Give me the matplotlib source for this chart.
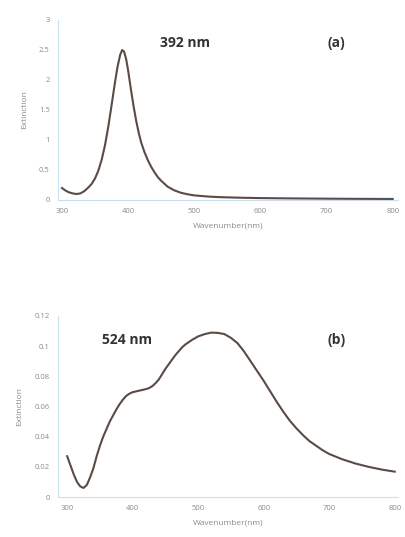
import numpy as np
import matplotlib
matplotlib.use('Agg')
import matplotlib.pyplot as plt

# panel (a): extinction spectrum, peak at 392 nm
wl_a = [300, 305, 310, 316, 322, 328, 334, 340, 345, 350, 355, 360, 365, 370,
        375, 380, 384, 388, 391, 394, 397, 400, 404, 408, 412, 416, 420, 425,
        430, 435, 440, 445, 450, 455, 460, 470, 480, 490, 500, 520, 540, 570,
        600, 650, 700, 750, 800]
ext_a = [0.20, 0.16, 0.13, 0.11, 0.10, 0.11, 0.15, 0.21, 0.27, 0.36, 0.49,
         0.67, 0.91, 1.22, 1.58, 1.95, 2.22, 2.42, 2.50, 2.47, 2.35, 2.16,
         1.86, 1.58, 1.33, 1.12, 0.95, 0.79, 0.66, 0.55, 0.46, 0.38, 0.32,
         0.27, 0.22, 0.16, 0.12, 0.095, 0.077, 0.058, 0.047, 0.038, 0.032,
         0.026, 0.022, 0.019, 0.017]

# panel (b): extinction spectrum, peak at 524 nm
wl_b = [300, 305, 310, 315, 320, 325, 330, 335, 340, 345, 350, 355, 360, 365,
        370, 375, 380, 385, 390, 395, 400, 405, 410, 415, 420, 425, 430, 435,
        440, 445, 450, 455, 460, 465, 470, 475, 480, 490, 500, 510, 520, 530,
        540, 550, 560, 570, 580, 590, 600, 610, 620, 630, 640, 650, 660, 670,
        680, 690, 700, 720, 740, 760, 780, 800]
ext_b = [0.027, 0.021, 0.015, 0.010, 0.007, 0.006, 0.008, 0.013, 0.019, 0.027,
         0.034, 0.040, 0.045, 0.050, 0.054, 0.058, 0.0615, 0.0645, 0.067,
         0.0685, 0.0695, 0.070, 0.0705, 0.071, 0.0715, 0.0722, 0.0735, 0.0755,
         0.078, 0.0815, 0.085, 0.088, 0.091, 0.094, 0.0965, 0.099, 0.101,
         0.104, 0.1065, 0.108, 0.109, 0.1088, 0.108, 0.1055, 0.102, 0.0965,
         0.090, 0.0835, 0.077, 0.070, 0.063, 0.0565, 0.0505, 0.0455, 0.041,
         0.037, 0.034, 0.031, 0.0285, 0.0250, 0.0222, 0.0200, 0.0182, 0.0168]

x_ticks = [300, 400, 500, 600, 700, 800]
y_ticks_a = [0, 0.5, 1, 1.5, 2, 2.5, 3]
y_labels_a = ['0', '0.5', '1', '1.5', '2', '2.5', '3']
y_ticks_b = [0, 0.02, 0.04, 0.06, 0.08, 0.1, 0.12]
y_labels_b = ['0', '0.02', '0.04', '0.06', '0.08', '0.1', '0.12']

plt.rcParams['font.family'] = ['Open Sans', 'DejaVu Sans']

W, H = 405, 537
fig = plt.figure(figsize=(W / 100, H / 100), dpi=100)

line_color = '#5b4b45'
spine_color = '#c9e0f0'
tick_color = '#8a8a8a'


def setup(ax, xlim, ylim, yticks, ylabels):
    ax.set_xlim(*xlim)
    ax.set_ylim(*ylim)
    ax.set_xticks(x_ticks)
    ax.set_xticklabels([str(t) for t in x_ticks])
    ax.set_yticks(yticks)
    ax.set_yticklabels(ylabels)
    for s in ['top', 'right']:
        ax.spines[s].set_visible(False)
    for s in ['left', 'bottom']:
        ax.spines[s].set_color(spine_color)
        ax.spines[s].set_linewidth(0.8)
    ax.tick_params(length=0, labelsize=5.5, colors=tick_color, pad=6)
    ax.set_xlabel('Wavenumber(nm)', fontsize=6, color=tick_color, labelpad=5)
    ax.set_ylabel('Extinction', fontsize=6, color=tick_color, labelpad=8)


ax1 = fig.add_axes([58 / W, 1 - 200 / H, 340 / W, 180 / H])
ax1.plot(wl_a, ext_a, color=line_color, lw=1.5, solid_joinstyle='round')
setup(ax1, (294, 808), (0, 3), y_ticks_a, y_labels_a)
ax1.text(0.374, 0.872, '392 nm', transform=ax1.transAxes, ha='center',
         va='center', fontsize=10, fontweight='bold', color='#333333')
ax1.text(0.82, 0.872, '(a)', transform=ax1.transAxes, ha='center',
         va='center', fontsize=10, fontweight='bold', color='#333333')

ax2 = fig.add_axes([58 / W, 1 - 497 / H, 340 / W, 181 / H])
ax2.plot(wl_b, ext_b, color=line_color, lw=1.5, solid_joinstyle='round')
setup(ax2, (286, 805), (0, 0.12), y_ticks_b, y_labels_b)
ax2.text(0.203, 0.867, '524 nm', transform=ax2.transAxes, ha='center',
         va='center', fontsize=10, fontweight='bold', color='#333333')
ax2.text(0.82, 0.867, '(b)', transform=ax2.transAxes, ha='center',
         va='center', fontsize=10, fontweight='bold', color='#333333')

fig.savefig('out.png', dpi=100)
